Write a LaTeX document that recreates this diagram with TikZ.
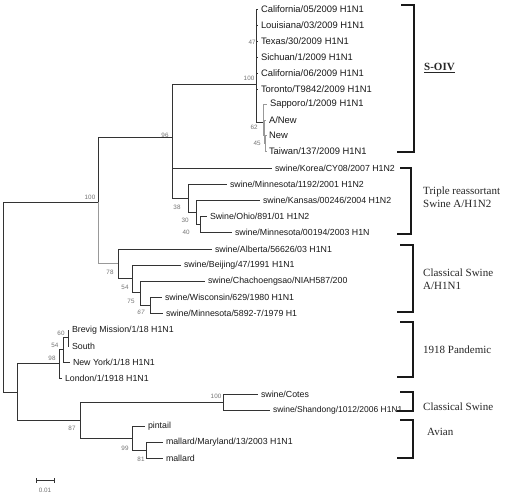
\documentclass[tikz,border=0pt]{standalone}
\usepackage{fontspec}
\setmainfont{Liberation Serif}
\newfontfamily\leaffont{Liberation Sans}
\begin{document}
\begin{tikzpicture}[x=1pt,y=-1pt,
  br/.style={draw=black!80, line width=0.9pt},
  brg/.style={draw=black!40, line width=0.9pt},
  leaf/.style={anchor=west, inner xsep=3pt, inner ysep=0pt, outer sep=0pt, font=\leaffont\fontsize{8.8}{10}\selectfont, text=black!90},
  leafw/.style={leaf, font=\leaffont\fontsize{9.4}{10}\selectfont},
  boot/.style={font=\leaffont\fontsize{6.3}{7}\selectfont, text=black!55, inner sep=0pt},
  clade/.style={font=\fontsize{11}{13}\selectfont, anchor=west, inner sep=0pt, align=left, text=black!85},
  brk/.style={line width=1.5pt, draw=black!90}]
\useasboundingbox (0,0) rectangle (510,499);
\fill[white] (0,0) rectangle (510,499);

% internal nodes
\coordinate (R) at (3,297);
\coordinate (N100) at (98,202);
\coordinate (N96) at (172,137);
\coordinate (NS) at (256,84);
\coordinate (NA) at (263,122);
\coordinate (NB) at (264.5,135);
\coordinate (NC) at (265.5,143);
\coordinate (N38) at (188,198);
\coordinate (N30) at (196,212);
\coordinate (N40) at (200,224);
\coordinate (N78) at (118,263.5);
\coordinate (N54) at (132,278);
\coordinate (N75) at (140,292);
\coordinate (N67) at (150,305.5);
\coordinate (N17) at (17,392);
\coordinate (N98) at (59,363);
\coordinate (N54b) at (63,349);
\coordinate (N60) at (68,337);
\coordinate (N87) at (80,420);
\coordinate (NCS) at (223,402);
\coordinate (N99) at (132,438);
\coordinate (N81) at (146,450);

% leaves
\node[leafw] (l0) at (258,9) {California/05/2009 H1N1};
\node[leafw] (l1) at (258,25) {Louisiana/03/2009 H1N1};
\node[leafw] (l2) at (258,41) {Texas/30/2009 H1N1};
\node[leafw] (l3) at (258,57) {Sichuan/1/2009 H1N1};
\node[leafw] (l4) at (258,73) {California/06/2009 H1N1};
\node[leafw] (l5) at (258,89) {Toronto/T9842/2009 H1N1};
\node[leafw] (l6) at (267,104) {Sapporo/1/2009 H1N1};
\node[leafw] (l7) at (266,120) {A/New};
\node[leafw] (l8) at (266,135.5) {New};
\node[leafw] (l9) at (266,151) {Taiwan/137/2009 H1N1};
\node[leaf] (l10) at (272,168) {swine/Korea/CY08/2007 H1N2};
\node[leaf] (l11) at (227,184) {swine/Minnesota/1192/2001 H1N2};
\node[leaf] (l12) at (260,200) {swine/Kansas/00246/2004 H1N2};
\node[leaf] (l13) at (207,216) {Swine/Ohio/891/01 H1N2};
\node[leaf] (l14) at (232,232) {swine/Minnesota/00194/2003 H1N};
\node[leaf] (l15) at (212,249) {swine/Alberta/56626/03 H1N1};
\node[leaf] (l16) at (181,265.5) {swine/Beijing/47/1991 H1N1};
\node[leaf] (l17) at (205,281.5) {swine/Chachoengsao/NIAH587/200};
\node[leaf] (l18) at (162,297.5) {swine/Wisconsin/629/1980 H1N1};
\node[leaf] (l19) at (163,313.5) {swine/Minnesota/5892-7/1979 H1};
\node[leaf] (l20) at (69,330) {Brevig Mission/1/18 H1N1};
\node[leaf] (l21) at (69,346) {South};
\node[leaf] (l22) at (70,362) {New York/1/18 H1N1};
\node[leaf] (l23) at (62,378) {London/1/1918 H1N1};
\node[leaf] (l24) at (258,394) {swine/Cotes};
\node[leaf, font=\leaffont\fontsize{8.5}{10}\selectfont] (l25) at (270,410) {swine/Shandong/1012/2006 H1N1};
\node[leaf] (l26) at (145,426) {pintail};
\node[leaf] (l27) at (163,442) {mallard/Maryland/13/2003 H1N1};
\node[leaf] (l28) at (163,458) {mallard};

% branches
\draw[br] (R) |- (N100);
\draw[br] (R) |- (N17);
\draw[br] (N100) |- (N96);
\draw[brg] (N100) |- (N78);
\draw[br] (N96) |- (NS);
\draw[br] (N96) |- (l10.west);
\draw[br] (N96) |- (N38);
\foreach \l in {l0,l1,l2,l3,l4,l5} \draw[br] (NS) |- (\l.west);
\draw[br] (NS) |- (NA);
\draw[brg] (NA) |- (l6.west);
\draw[brg] (NA) |- (NB);
\draw[brg] (NB) |- (l7.west);
\draw[brg] (NB) |- (NC);
\draw[brg] (NC) |- (l8.west);
\draw[brg] (NC) |- (l9.west);
\draw[br] (N38) |- (l11.west);
\draw[br] (N38) |- (N30);
\draw[br] (N30) |- (l12.west);
\draw[br] (N30) |- (N40);
\draw[br] (N40) |- (l13.west);
\draw[br] (N40) |- (l14.west);
\draw[br] (N78) |- (l15.west);
\draw[br] (N78) |- (N54);
\draw[br] (N54) |- (l16.west);
\draw[br] (N54) |- (N75);
\draw[br] (N75) |- (l17.west);
\draw[br] (N75) |- (N67);
\draw[br] (N67) |- (l18.west);
\draw[br] (N67) |- (l19.west);
\draw[br] (N17) |- (N98);
\draw[br] (N17) |- (N87);
\draw[br] (N98) |- (N54b);
\draw[br] (N98) |- (l23.west);
\draw[br] (N54b) |- (N60);
\draw[br] (N54b) |- (l22.west);
\draw[br] (N60) |- (l20.west);
\draw[br] (N60) |- (l21.west);
\draw[br] (N87) |- (NCS);
\draw[br] (N87) |- (N99);
\draw[br] (NCS) |- (l24.west);
\draw[br] (NCS) |- (l25.west);
\draw[br] (N99) |- (l26.west);
\draw[br] (N99) |- (N81);
\draw[br] (N81) |- (l27.west);
\draw[br] (N81) |- (l28.west);

% bootstrap values
\node[boot] (b47) at (252,42) {47};
\node[boot] (b100a) at (249,78) {100};
\node[boot] (b62) at (254,127) {62};
\node[boot] (b45) at (257,143) {45};
\node[boot] (b96) at (165,135) {96};
\node[boot] (b100b) at (90,197) {100};
\node[boot] (b38) at (177,207) {38};
\node[boot] (b30) at (185,220) {30};
\node[boot] (b40) at (186,232) {40};
\node[boot] (b78) at (110,272) {78};
\node[boot] (b54) at (125,287) {54};
\node[boot] (b75) at (131,301) {75};
\node[boot] (b67) at (141,312) {\itshape 67};
\node[boot] (b60) at (61,333) {60};
\node[boot] (b54b) at (55,345) {54};
\node[boot] (b98) at (52,358) {98};
\node[boot] (b100c) at (216,396) {100};
\node[boot] (b87) at (72,428) {87};
\node[boot] (b99) at (125,448) {99};
\node[boot] (b81) at (141,459) {81};

% clade brackets
\draw[brk] (401,5) -- (414,5) -- (414,152) -- (397,152);
\draw[brk] (400,168) -- (411,168) -- (411,234) -- (397,234);
\draw[brk] (400,245) -- (413,245) -- (413,312) -- (397,312);
\draw[brk] (400,322) -- (413,322) -- (413,377) -- (397,377);
\draw[brk] (400,392) -- (413,392) -- (413,411) -- (397,411);
\draw[brk] (400,420) -- (413,420) -- (413,458) -- (397,458);

\node[clade] (c1) at (424,68) {\underline{\textbf{S-OIV}}};
\node[clade] (c2) at (423,197) {Triple reassortant\\Swine A/H1N2};
\node[clade] (c3) at (423,279) {Classical Swine\\A/H1N1};
\node[clade] (c4) at (423,350) {1918 Pandemic};
\node[clade] (c5) at (423,407) {Classical Swine};
\node[clade] (c6) at (427,432) {Avian};

% scale bar
\coordinate (s1) at (36,480);
\coordinate (s2) at (54,480);
\draw[br] (s1) -- (s2);
\draw[br] ([yshift=-2.5pt]s1) -- ([yshift=2.5pt]s1);
\draw[br] ([yshift=-2.5pt]s2) -- ([yshift=2.5pt]s2);
\node[boot] (sc) at (45,490) {0.01};
\end{tikzpicture}
\end{document}
